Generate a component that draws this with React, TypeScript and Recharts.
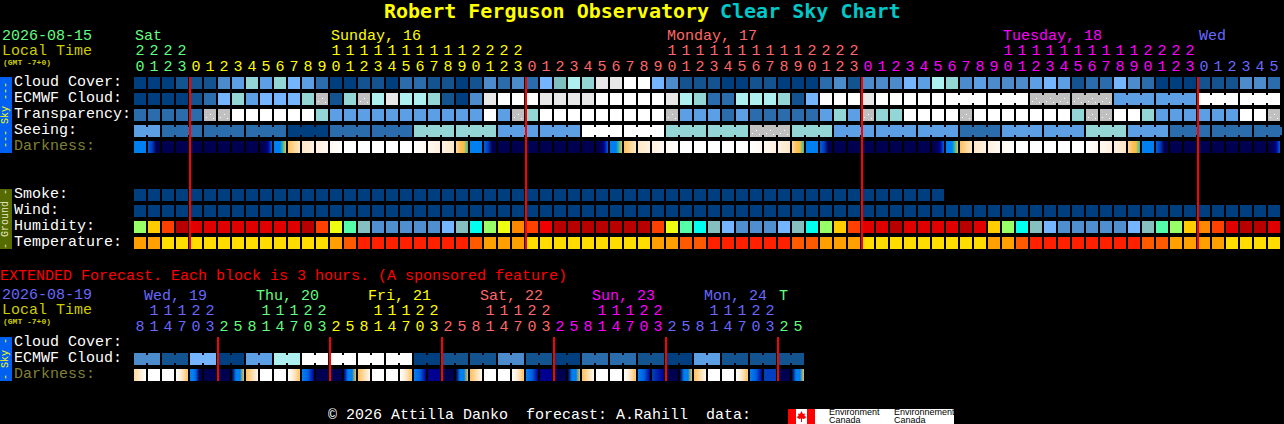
import { Scatter, ScatterChart, XAxis, YAxis } from 'recharts';

const MONO = '"Liberation Mono", monospace';
const TITLE_FONT = '"DejaVu Sans Mono", monospace';

const BLUE = '#6868ff';
const GREEN = '#60ff80';
const YELLOW = '#ffff00';
const SALMON = '#ff6868';
const MAGENTA = '#ff00ff';

// Hourly forecast, one entry per block
const HOURS = [
  20, 21, 22, 23,
  0, 1, 2, 3, 4, 5, 6, 7, 8, 9, 10, 11, 12, 13, 14, 15, 16, 17, 18, 19, 20, 21, 22, 23,
  0, 1, 2, 3, 4, 5, 6, 7, 8, 9, 10, 11, 12, 13, 14, 15, 16, 17, 18, 19, 20, 21, 22, 23,
  0, 1, 2, 3, 4, 5, 6, 7, 8, 9, 10, 11, 12, 13, 14, 15, 16, 17, 18, 19, 20, 21, 22, 23,
  0, 1, 2, 3, 4, 5,
];
const DAY_STARTS = [0, 4, 28, 52, 76];
const DAY_COLORS = [GREEN, YELLOW, SALMON, MAGENTA, BLUE];
const DAY_LABELS = ['Sat', 'Sunday, 16', 'Monday, 17', 'Tuesday, 18', 'Wed'];
const DAY_LABEL_COLS = [0, 14, 38, 62, 76];
const MIDNIGHTS = [3.57, 27.57, 51.57, 75.57];

const ROW_NAMES = ['Cloud Cover:', 'ECMWF Cloud:', 'Transparency:', 'Seeing:', 'Darkness:', '', '', 'Smoke:', 'Wind:', 'Humidity:', 'Temperature:'];
const ROW_TICKS = [0, 1, 2, 3, 4, 7, 8, 9, 10];
const ROW_DOMAIN = [-0.375, 10.375];

const CLOUD_COVER = [
  0, 0, 0, 1, 1, 1, 3, 4, 7, 4, 7, 5, 4, 2, 0, 0, 1, 1, 0, 2, 2,
  1, 1, 0, 1, 3, 2, 3, 2, 5, 6, 8, 7, 9, 9, 10, 10, 5, 3, 1, 1, 1, 0, 0, 1, 1, 0, 0, 0, 2, 3, 1,
  3, 3, 3, 5, 4, 8, 7, 3, 4, 3, 3, 3, 4, 5, 4, 1, 2, 2, 5, 3, 2, 0, 0, 0, 1, 1, 1, 3, 3, 2,
];
const ECMWF = [
  0, 0, 0, 0, 1, 2, 5, 7, 4, 5, 5, 5, 7, 11, 1, 7, 11, 8, 9, 8, 8,
  7, 1, 0, 3, 9, 10, 10, 10, 9, 9, 9, 9, 10, 10, 10, 10, 10, 9, 8, 7, 2, 2, 8, 8, 8, 7, 1, 5, 10, 10, 10,
  9, 10, 10, 10, 10, 10, 10, 10, 10, 10, 10, 10, 11, 11, 11, 11, 11, 11, 4, 4, 4, 4, 4, 4, 10, 10, 10, 10, 10, 10,
];
const TRANSPARENCY = [
  2, 2, 2, 2, 2, 11, 11, 10, 10, 10, 10, 10, 10, 7, 4, 4, 4, 4, 4, 4, 4,
  4, 4, 4, 4, 10, 4, 11, 7, 10, 10, 10, 10, 10, 10, 10, 10, 10, 11, 4, 4, 4, 2, 4, 2, 2, 2, 2, 2, 4, 7, 4,
  11, 7, 7, 10, 10, 10, 10, 11, 10, 10, 10, 10, 10, 10, 10, 7, 11, 11, 10, 10, 7, 4, 4, 4, 4, 4, 4, 10, 10, 11,
];
const SEEING = [
  4, 4, 2, 2, 2, 2, 2, 2, 2, 2, 2, 0, 0, 0, 2, 2, 2, 2, 2, 2, 7, 7, 7, 7, 7, 7, 4, 4, 4, 4, 4, 4,
  10, 10, 10, 10, 10, 10, 7, 7, 7, 7, 7, 7, 11, 11, 11, 7, 7, 7, 4, 4, 4, 4, 4, 4, 4, 4, 4,
  2, 2, 2, 4, 4, 4, 4, 4, 4, 7, 7, 7, 4, 4, 4, 2, 2, 2, 2, 2, 2, 2, 2,
];
const DARKNESS = [
  [4], [3, 2, 0, 0], [0], [0], [0], [0], [0], [0], [0], [0, 0, 1, 3], [4, 4, 4, 5, 6], [7, 9], [9, 10], [10, 11], [11, 12],
  [12], [12], [12], [12], [12], [12, 11], [11, 10], [10, 9], [8, 7, 6, 5], [4], [3, 2, 0, 0],
  [0], [0], [0], [0], [0], [0], [0], [0, 0, 1, 3], [4, 4, 4, 5, 6], [7, 9], [9, 10], [10, 11], [11, 12],
  [12], [12], [12], [12], [12], [12, 11], [11, 10], [10, 9], [8, 7, 6, 5], [4], [3, 2, 0, 0],
  [0], [0], [0], [0], [0], [0], [0], [0, 0, 1, 3], [4, 4, 4, 5, 6], [7, 9], [9, 10], [10, 11], [11, 12],
  [12], [12], [12], [12], [12], [12, 11], [11, 10], [10, 9], [8, 7, 6, 5], [4], [3, 2, 0, 0],
  [0], [0], [0], [0], [0], [0], [0], [0, 0, 1, 3],
];
const SMOKE = [
  0, 0, 0, 0, 0, 0, 0, 0, 0, 0, 0, 0, 0, 0, 0, 0, 0, 0, 0, 0, 0, 0, 0, 0, 0, 0, 0, 0, 0,
  0, 0, 0, 0, 0, 0, 0, 0, 0, 0, 0, 0, 0, 0, 0, 0, 0, 0, 0, 0, 0, 0, 0, 0, 0, 0, 0, 0, 0,
];
const WIND = [
  0, 0, 0, 0, 0, 0, 0, 0, 0, 0, 0, 0, 0, 0, 0, 0, 0, 0, 0, 0, 0, 0, 0, 0, 0, 0, 0, 0, 0, 0, 0, 0, 0, 0, 0, 0, 0, 0, 0, 0, 0,
  0, 0, 0, 0, 0, 0, 0, 0, 0, 0, 0, 0, 0, 0, 0, 0, 0, 0, 0, 0, 0, 0, 0, 0, 0, 0, 0, 0, 0, 0, 0, 0, 0, 0, 0, 0, 0, 0, 0, 0, 0,
];
const HUMIDITY = [
  5, 7, 9, 12, 11, 11, 11, 11, 11, 11, 11, 11, 12, 9, 6, 4, 2, 0, 0, 0, 0,
  0, 1, 2, 3, 5, 6, 8, 9, 10, 12, 12, 12, 12, 12, 12, 12, 9, 6, 4, 3, 2, 1, 0, 0, 0, 1, 2, 3, 5, 7, 9,
  11, 11, 12, 11, 11, 11, 11, 12, 11, 7, 5, 3, 2, 1, 0, 0, 0, 0, 0, 1, 2, 4, 5, 7, 8, 9, 11, 12, 12, 11,
];
const TEMPERATURE = [
  2, 2, 3, 3, 3, 3, 3, 3, 3, 3, 3, 3, 3, 3, 2, 1, 0, 0, 0, 0, 0,
  0, 0, 0, 1, 2, 2, 2, 3, 3, 3, 3, 3, 3, 3, 3, 3, 2, 2, 1, 1, 0, 0, 0, 0, 0, 0, 1, 1, 2, 2, 2,
  3, 3, 3, 3, 3, 3, 3, 3, 3, 2, 2, 1, 0, 0, 0, 0, 0, 0, 0, 0, 1, 1, 2, 2, 2, 2, 3, 3, 3, 3,
];

// Extended forecast, each block is 3 hours
const EXT_HOURS = [
  8, 11, 14, 17, 20, 23,
  2, 5, 8, 11, 14, 17, 20, 23,
  2, 5, 8, 11, 14, 17, 20, 23,
  2, 5, 8, 11, 14, 17, 20, 23,
  2, 5, 8, 11, 14, 17, 20, 23,
  2, 5, 8, 11, 14, 17, 20, 23,
  2, 5,
];
const EXT_DAY_STARTS = [0, 6, 14, 22, 30, 38, 46];
const EXT_DAY_COLORS = [BLUE, GREEN, YELLOW, SALMON, MAGENTA, BLUE, GREEN];
const EXT_DAY_LABELS = ['Wed, 19', 'Thu, 20', 'Fri, 21', 'Sat, 22', 'Sun, 23', 'Mon, 24', 'T'];
const EXT_DAY_LABEL_COLS = [0, 8, 16, 24, 32, 40, 46];
const EXT_MIDNIGHTS = [5.57, 13.57, 21.57, 29.57, 37.57, 45.57];
const EXT_ROW_NAMES = ['Cloud Cover:', 'ECMWF Cloud:', 'Darkness:'];
const EXT_ROW_DOMAIN = [-0.375, 2.375];
const EXT_ECMWF = [
  3, 3, 1, 1, 5, 5, 0, 0, 4, 4, 8, 8, 10, 10, 10, 10, 10, 10, 10, 10, 0, 0, 1, 1,
  1, 1, 3, 3, 1, 1, 0, 0, 2, 2, 2, 2, 1, 1, 0, 0, 4, 4, 1, 1, 1, 1, 1, 1,
];
const EXT_DARKNESS = [
  [8, 12], [12], [12], [12, 9, 7], [4, 4, 3, 0, 0], [0], [0], [0, 4, 4, 6],
  [7, 11], [12], [12], [12, 9, 7], [4, 3, 1], [0], [0], [1, 4, 4, 6],
  [7, 11], [12], [12], [12, 9, 7], [4, 3, 1], [1], [0], [0, 4, 4, 6],
  [7, 11], [12], [12], [12, 9, 7], [4, 3, 1], [1], [0], [0, 4, 4, 6],
  [7, 11], [12], [12], [12, 9, 7], [4, 3, 1], [2, 1], [0], [0, 4, 4, 6],
  [7, 11], [12], [12], [12, 9, 7], [4, 3, 1], [2, 2], [0], [0, 4, 4, 6],
];

const CLOUD_COLORS = ['#003f7f', '#13538f', '#2b6cad', '#4d8ccc', '#5d9fe5', '#75b5ff', '#80bfbf', '#94d5d5', '#aef0f0', '#e8e8e8', '#ffffff', '#c0c0c0'];
const HUMIDITY_COLORS = ['#4f8fd0', '#75b5ff', '#85bfbf', '#00ffee', '#55ffaa', '#99ff66', '#eeff11', '#ffcc00', '#ff8800', '#ff4000', '#f00000', '#e00000', '#b80000'];
const TEMPERATURE_COLORS = ['#ff2000', '#ff5a00', '#ffa000', '#ffdd00'];
const DARKNESS_COLORS = ['#000050', '#000090', '#0040c0', '#0060e0', '#0080f0', '#40b8a0', '#f0c040', '#ffc060', '#ffd8a0', '#ffe8c8', '#fff0e0', '#fff8f0', '#ffffff'];

const CELL = 12;
const PITCH = 14;
const GRAY_LEVEL = 11;

function toCells(values: number[], row: number) {
  return values.map((level, col) => ({ col, row, level }));
}

function dayColor(col: number, starts: number[], colors: string[]) {
  let c = colors[0];
  starts.forEach((s, i) => {
    if (col >= s) c = colors[i];
  });
  return c;
}

// Plain block. groupSize > 1 joins neighbours with a short bar
function blockShape(colors: string[], groupSize = 1, groupStart = 0) {
  return (p: any) => {
    const { col, level } = p.payload;
    const x = p.cx - CELL / 2;
    const y = p.cy - CELL / 2;
    const joined = groupSize > 1 && (col - groupStart + groupSize * 3) % groupSize !== groupSize - 1;
    return (
      <g>
        <rect x={x} y={y} width={CELL} height={CELL} fill={colors[level]} />
        {joined && <rect x={x + CELL} y={y + 2} width={PITCH - CELL} height={CELL - 4} fill={colors[level]} />}
        {level === GRAY_LEVEL && colors === CLOUD_COLORS && (
          <g fill="#ffffff">
            <rect x={x + 2} y={y + 8} width={1} height={1} />
            <rect x={x + 6} y={y + 5} width={1} height={1} />
            <rect x={x + 9} y={y + 9} width={1} height={1} />
          </g>
        )}
      </g>
    );
  };
}

function ecmwfShape(p: any) {
  if (p.payload.col < 58) return blockShape(CLOUD_COLORS)(p);
  return blockShape(CLOUD_COLORS, 3, 58)(p);
}

function darknessShape(stopsByCol: number[][]) {
  return (p: any) => {
    const stops = stopsByCol[p.payload.col];
    const x = p.cx - CELL / 2;
    const y = p.cy - CELL / 2;
    if (stops.length === 1) {
      return <rect x={x} y={y} width={CELL} height={CELL} fill={DARKNESS_COLORS[stops[0]]} />;
    }
    const id = `dark-${stops.join('-')}`;
    return (
      <g>
        <defs>
          <linearGradient id={id} x1="0" y1="0" x2="1" y2="0">
            {stops.map((s, i) => (
              <stop key={i} offset={i / (stops.length - 1)} stopColor={DARKNESS_COLORS[s]} />
            ))}
          </linearGradient>
        </defs>
        <rect x={x} y={y} width={CELL} height={CELL} fill={`url(#${id})`} />
      </g>
    );
  };
}

// Midnight markers go last as two point scatters so they sit on top of the blocks
function midnightLines(cols: number[], domain: number[]) {
  return cols.map((col) => (
    <Scatter
      key={col}
      data={[{ col, row: domain[0] }, { col, row: domain[1] }]}
      line={{ stroke: '#ff0000', strokeWidth: 2 }}
      shape={() => <g />}
      isAnimationActive={false}
    />
  ));
}

function hourTick(
  hours: number[],
  starts: number[],
  colors: string[],
  labels: string[],
  labelCols: number[],
  labelShift: (i: number) => number,
) {
  return (p: any) => {
    const col = p.payload.value;
    const hour = hours[col];
    const fill = dayColor(col, starts, colors);
    const labelIndex = labelCols.indexOf(col);
    return (
      <g fontFamily={MONO} fontSize={15}>
        <text x={p.x} y={p.y - 4} fill={fill} textAnchor="middle">{hour % 10}</text>
        {hour >= 10 && (
          <text x={p.x} y={p.y - 20} fill={fill} textAnchor="middle">{Math.floor(hour / 10)}</text>
        )}
        {labelIndex >= 0 && (
          <text x={p.x + labelShift(labelIndex)} y={p.y - 35} fill={colors[labelIndex]}>{labels[labelIndex]}</text>
        )}
      </g>
    );
  };
}

function rowTick(names: string[]) {
  return (p: any) => {
    const name = names[p.payload.value];
    return (
      <text x={14} y={p.y + 3} fontFamily={MONO} fontSize={15} fill={name === 'Darkness:' ? '#808033' : '#ffffff'}>
        {name}
      </text>
    );
  };
}

function Txt({ x, y, color, size = 15, bold, font = MONO, children }: any) {
  return (
    <span
      style={{
        position: 'absolute',
        left: x,
        top: y,
        color,
        fontFamily: font,
        fontSize: size,
        fontWeight: bold ? 700 : 400,
        lineHeight: 1,
        whiteSpace: 'pre',
      }}
    >
      {children}
    </span>
  );
}

function SideBar({ top, height, color, textColor, text }: any) {
  return (
    <div style={{ position: 'absolute', left: 0, top, width: 12, height, background: color, overflow: 'hidden' }}>
      <span
        style={{
          position: 'absolute',
          left: 6,
          top: height / 2,
          transform: 'translate(-50%, -50%) rotate(-90deg)',
          color: textColor,
          fontFamily: MONO,
          fontSize: 10,
          lineHeight: 1,
          whiteSpace: 'pre',
        }}
      >
        {text}
      </span>
    </div>
  );
}

export default function App() {
  const cols = HOURS.map((_, i) => i);
  const extCols = EXT_HOURS.map((_, i) => i);

  return (
    <div style={{ position: 'absolute', left: 0, top: 0, width: 1284, height: 424, background: '#000', overflow: 'hidden' }}>
      <div style={{ position: 'absolute', left: 0, top: 0 }}>
        <ScatterChart width={1284} height={260} margin={{ top: 0, right: 3, bottom: 11, left: 0 }}>
          <XAxis
            xAxisId={0}
            orientation="top"
            type="number"
            dataKey="col"
            domain={[-0.5, 81.5]}
            ticks={cols}
            interval={0}
            height={77}
            tickSize={0}
            axisLine={false}
            tickLine={false}
            tick={hourTick(HOURS, DAY_STARTS, DAY_COLORS, DAY_LABELS, DAY_LABEL_COLS, () => -5)}
          />
          <YAxis
            yAxisId={0}
            type="number"
            dataKey="row"
            reversed
            domain={ROW_DOMAIN}
            ticks={ROW_TICKS}
            interval={0}
            width={133}
            axisLine={false}
            tickLine={false}
            tick={rowTick(ROW_NAMES)}
          />
          <Scatter data={toCells(CLOUD_COVER, 0)} shape={blockShape(CLOUD_COLORS)} isAnimationActive={false} />
          <Scatter data={toCells(ECMWF, 1)} shape={ecmwfShape} isAnimationActive={false} />
          <Scatter data={toCells(TRANSPARENCY, 2)} shape={blockShape(CLOUD_COLORS)} isAnimationActive={false} />
          <Scatter data={toCells(SEEING, 3)} shape={blockShape(CLOUD_COLORS, 3, 2)} isAnimationActive={false} />
          <Scatter data={toCells(DARKNESS.map(() => 0), 4)} shape={darknessShape(DARKNESS)} isAnimationActive={false} />
          <Scatter data={toCells(SMOKE, 7)} shape={blockShape(CLOUD_COLORS)} isAnimationActive={false} />
          <Scatter data={toCells(WIND, 8)} shape={blockShape(CLOUD_COLORS)} isAnimationActive={false} />
          <Scatter data={toCells(HUMIDITY, 9)} shape={blockShape(HUMIDITY_COLORS)} isAnimationActive={false} />
          <Scatter data={toCells(TEMPERATURE, 10)} shape={blockShape(TEMPERATURE_COLORS)} isAnimationActive={false} />
          {midnightLines(MIDNIGHTS, ROW_DOMAIN)}
        </ScatterChart>
      </div>

      <div style={{ position: 'absolute', left: 0, top: 260 }}>
        <ScatterChart width={1284} height={130} margin={{ top: 0, right: 3, bottom: 9, left: 0 }}>
          <XAxis
            xAxisId={0}
            orientation="top"
            type="number"
            dataKey="col"
            domain={[-0.5, 81.5]}
            ticks={extCols}
            interval={0}
            height={77}
            tickSize={0}
            axisLine={false}
            tickLine={false}
            tick={hourTick(EXT_HOURS, EXT_DAY_STARTS, EXT_DAY_COLORS, EXT_DAY_LABELS, EXT_DAY_LABEL_COLS, (i) => (i === 6 ? -5 : 4))}
          />
          <YAxis
            yAxisId={0}
            type="number"
            dataKey="row"
            reversed
            domain={EXT_ROW_DOMAIN}
            ticks={[0, 1, 2]}
            interval={0}
            width={133}
            axisLine={false}
            tickLine={false}
            tick={rowTick(EXT_ROW_NAMES)}
          />
          <Scatter data={toCells(EXT_ECMWF, 1)} shape={blockShape(CLOUD_COLORS, 2, 0)} isAnimationActive={false} />
          <Scatter data={toCells(EXT_DARKNESS.map(() => 0), 2)} shape={darknessShape(EXT_DARKNESS)} isAnimationActive={false} />
          {midnightLines(EXT_MIDNIGHTS, EXT_ROW_DOMAIN)}
        </ScatterChart>
      </div>

      <Txt x={384} y={1} size={20} bold font={TITLE_FONT} color="#ffff00">Robert Ferguson Observatory</Txt>
      <Txt x={720} y={1} size={20} bold font={TITLE_FONT} color="#00c8c8">Clear Sky Chart</Txt>

      <Txt x={2} y={29} color={GREEN}>2026-08-15</Txt>
      <Txt x={2} y={44} color="#cccc00">Local Time</Txt>
      <Txt x={3} y={59} size={8} bold color="#cccc00">(GMT -7+0)</Txt>

      <Txt x={0} y={269} color="#ff0000">EXTENDED Forecast. Each block is 3 hours. (A sponsored feature)</Txt>
      <Txt x={2} y={288} color={BLUE}>2026-08-19</Txt>
      <Txt x={2} y={303} color="#cccc00">Local Time</Txt>
      <Txt x={3} y={318} size={8} bold color="#cccc00">(GMT -7+0)</Txt>

      <SideBar top={77} height={76} color="#0060f0" textColor="#ffff00" text="--- Sky ---" />
      <SideBar top={189} height={60} color="#556b00" textColor="#e8e8c0" text="- Ground -" />
      <SideBar top={337} height={44} color="#0060f0" textColor="#ffff00" text="- Sky -" />

      <Txt x={328} y={408} color="#ffffff">{'© 2026 Attilla Danko  forecast: A.Rahill  data:'}</Txt>

      <div style={{ position: 'absolute', left: 788, top: 409, width: 166, height: 15, background: '#fff' }}>
        <div style={{ position: 'absolute', left: 0, top: 0, width: 8, height: 15, background: '#ff0000' }} />
        <div style={{ position: 'absolute', left: 19, top: 0, width: 8, height: 15, background: '#ff0000' }} />
        <svg style={{ position: 'absolute', left: 8, top: 2 }} width={11} height={11} viewBox="0 0 11 11">
          <polygon fill="#ff0000" points="5.5,0 7,3 9,2.5 8.5,5 10.5,6 8,8 6,7.5 6,11 5,11 5,7.5 3,8 0.5,6 2.5,5 2,2.5 4,3" />
        </svg>
        <span style={{ position: 'absolute', left: 41, top: 0, fontFamily: '"Liberation Sans", sans-serif', fontSize: 9, lineHeight: '7.5px', color: '#000', whiteSpace: 'pre' }}>
          {'Environment\nCanada'}
        </span>
        <span style={{ position: 'absolute', left: 106, top: 0, fontFamily: '"Liberation Sans", sans-serif', fontSize: 9, lineHeight: '7.5px', color: '#000', whiteSpace: 'pre' }}>
          {'Environnement\nCanada'}
        </span>
      </div>
    </div>
  );
}
